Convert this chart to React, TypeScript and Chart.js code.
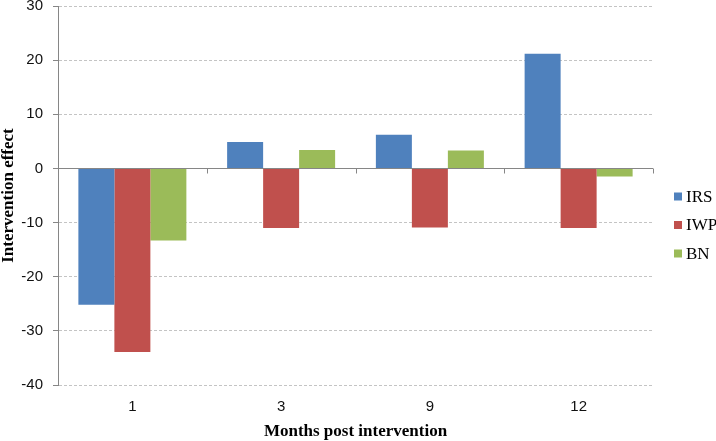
import React, { useEffect, useRef } from "react";
import { Chart, registerables } from "chart.js";

Chart.register(...registerables);

const categories = ["1", "3", "9", "12"];
const irs = [-25.2, 4.9, 6.2, 21.2];
const iwp = [-33.9, -11.0, -10.9, -11.0];
const bn = [-13.3, 3.4, 3.3, -1.5];
const yTicks = [-40, -30, -20, -10, 0, 10, 20, 30];
const seriesNames = ["IRS", "IWP", "BN"];
const seriesColors = ["#4F81BD", "#C0504D", "#9BBB59"];

const AXIS_GRAY = "#868686";
const GRID_GRAY = "#c4c4c4";

const zeroTicksPlugin = {
  id: "zeroTicks",
  afterDraw(chart: any) {
    const xs = chart.scales.x;
    const ys = chart.scales.y;
    const ctx = chart.ctx;
    const y0 = Math.round(ys.getPixelForValue(0)) + 0.5;
    const xsPos: number[] = [];
    const n = chart.data.labels.length;
    for (let i = 1; i < n; i++) {
      xsPos.push((xs.getPixelForTick(i - 1) + xs.getPixelForTick(i)) / 2);
    }
    xsPos.push(xs.right);
    ctx.save();
    ctx.strokeStyle = AXIS_GRAY;
    ctx.lineWidth = 1;
    ctx.setLineDash([]);
    ctx.beginPath();
    xsPos.forEach((x) => {
      const px = Math.round(x) + 0.5;
      ctx.moveTo(px, y0);
      ctx.lineTo(px, y0 + 5);
    });
    ctx.stroke();
    ctx.restore();
  },
};

const sideLegendPlugin = {
  id: "sideLegend",
  afterDraw(chart: any) {
    const ctx = chart.ctx;
    const area = chart.chartArea;
    const x = area.right + 21;
    const midY = (area.top + area.bottom) / 2 + 29.5;
    const gap = 28.5;
    ctx.save();
    ctx.font = "17px 'Liberation Serif', 'Times New Roman', serif";
    ctx.textBaseline = "middle";
    ctx.textAlign = "left";
    chart.data.datasets.forEach((ds: any, i: number) => {
      const cy = midY + (i - 1) * gap;
      ctx.fillStyle = ds.backgroundColor;
      ctx.fillRect(x, cy - 4, 8, 8);
      ctx.fillStyle = "#000";
      ctx.fillText(ds.label, x + 12, cy + 1);
    });
    ctx.restore();
  },
};

export default function App() {
  const ref = useRef<HTMLCanvasElement | null>(null);

  useEffect(() => {
    if (!ref.current) return;
    const datasets = [irs, iwp, bn].map((d, i) => ({
      label: seriesNames[i],
      data: d,
      backgroundColor: seriesColors[i],
      borderWidth: 0,
      categoryPercentage: 0.726,
      barPercentage: 1.0,
    }));
    const chart = new Chart(ref.current, {
      type: "bar",
      data: { labels: categories, datasets },
      plugins: [zeroTicksPlugin, sideLegendPlugin],
      options: {
        animation: false,
        responsive: false,
        maintainAspectRatio: false,
        layout: { padding: { top: 6, right: 63, bottom: 0, left: 0 } },
        plugins: {
          legend: { display: false },
          tooltip: { enabled: false },
          title: { display: false },
        },
        scales: {
          x: {
            grid: { display: false, drawTicks: false },
            border: { display: false },
            ticks: {
              padding: 13,
              color: "#111",
              font: { family: "'Liberation Sans', Arial, sans-serif", size: 15 },
            },
            title: {
              display: true,
              text: "Months post intervention",
              color: "#000",
              font: {
                family: "'Liberation Serif', 'Times New Roman', serif",
                size: 17,
                weight: "bold",
                lineHeight: 1,
              },
              padding: { top: 0, bottom: 1 },
            },
            afterFit(scale: any) {
              scale.height = 56;
              scale.paddingLeft = 0;
              scale.paddingRight = 0;
            },
          },
          y: {
            min: -40,
            max: 30,
            afterBuildTicks(scale: any) {
              scale.ticks = yTicks.map((v) => ({ value: v }));
            },
            grid: {
              color: (c: any) => (c.tick && c.tick.value === 0 ? AXIS_GRAY : GRID_GRAY),
              lineWidth: 1,
              drawTicks: true,
              tickLength: 5,
              tickColor: AXIS_GRAY,
              tickBorderDash: [],
              borderDash: (c: any) => (c.tick && c.tick.value === 0 ? [] : [3, 2]),
            } as any,
            border: {
              display: true,
              color: AXIS_GRAY,
              width: 1,
              dash: (c: any) => (c.tick && c.tick.value === 0 ? [] : [3, 2]),
            } as any,
            ticks: {
              padding: 10,
              color: "#111",
              font: { family: "'Liberation Sans', Arial, sans-serif", size: 15 },
            },
            title: {
              display: true,
              text: "Intervention effect",
              color: "#000",
              font: {
                family: "'Liberation Serif', 'Times New Roman', serif",
                size: 17,
                weight: "bold",
                lineHeight: 1,
              },
              padding: { top: 0, bottom: 0 },
            },
            afterFit(scale: any) {
              scale.width = 58;
              scale.paddingTop = 0;
              scale.paddingBottom = 0;
            },
          },
        },
      } as any,
    });
    return () => chart.destroy();
  }, []);

  return (
    <div style={{ position: "fixed", left: 0, top: 0, width: 716, height: 441, background: "#fff" }}>
      <canvas ref={ref} width={716} height={441} style={{ display: "block" }} />
    </div>
  );
}
